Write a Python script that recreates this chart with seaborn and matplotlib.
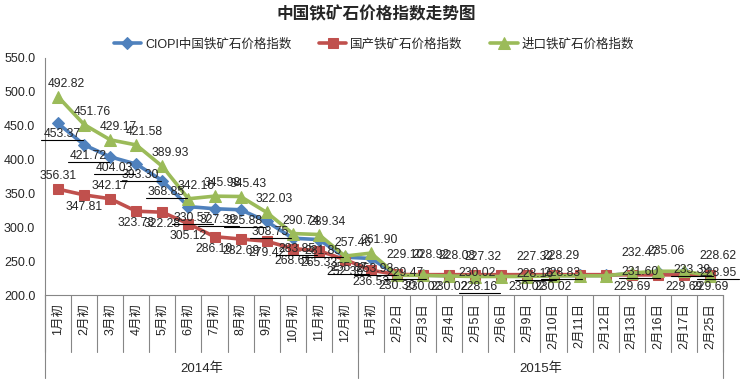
import numpy as np
import pandas as pd
import matplotlib
matplotlib.use('Agg')
import matplotlib.pyplot as plt
import seaborn as sns
from matplotlib.lines import Line2D
from matplotlib.transforms import IdentityTransform
from matplotlib.ticker import FormatStrFormatter

# categories (two-level axis: year -> period)
cats_2014 = ['1月初', '2月初', '3月初', '4月初', '5月初', '6月初',
             '7月初', '8月初', '9月初', '10月初', '11月初', '12月初']
cats_2015 = ['1月初', '2月2日', '2月3日', '2月4日', '2月5日', '2月6日', '2月9日',
             '2月10日', '2月11日', '2月12日', '2月13日', '2月16日', '2月17日', '2月25日']
years = ['2014年', '2015年']

ciopi = [453.37, 421.72, 404.03, 393.30, 368.85, 330.57, 327.39, 325.88, 308.75, 283.85, 281.85, 255.87,
         253.93, 229.47, 229.26, 228.65, 228.16, 228.16, 228.16, 228.83, 228.83, 228.83, 231.60, 233.39, 233.39, 228.95]
domestic = [356.31, 347.81, 342.17, 323.73, 322.28, 305.12, 286.10, 282.69, 279.42, 268.61, 265.33, 252.36,
            236.53, 230.30, 230.02, 230.02, 230.02, 230.02, 230.02, 230.02, 230.02, 230.02, 229.69, 229.69, 229.69, 229.69]
imported = [492.82, 451.76, 429.17, 421.58, 389.93, 342.10, 345.98, 345.43, 322.03, 290.74, 289.34, 257.46,
            261.90, 229.10, 228.92, 228.03, 227.32, 227.32, 227.32, 228.29, 228.29, 228.29, 232.47, 235.06, 235.06, 228.62]

series_names = ['CIOPI中国铁矿石价格指数', '国产铁矿石价格指数', '进口铁矿石价格指数']
title = '中国铁矿石价格指数走势图'

# labels hidden behind neighbours in the original (Feb 2015 crowd)
hide_ciopi = {14, 15, 17, 20, 21, 23}
hide_domestic = {17, 20, 21, 23}
hide_imported = {17, 20, 21, 24}

sns.set_style('white')
plt.rcParams['font.family'] = ['Liberation Sans', 'Noto Sans CJK SC']

categories = cats_2014 + cats_2015
n = len(categories)
df = pd.DataFrame({
    'idx': np.tile(np.arange(n), 3),
    'value': ciopi + domestic + imported,
    'series': np.repeat(series_names, n),
})

fig = plt.figure(figsize=(7.52, 3.80), dpi=100)
ax = fig.add_axes([45 / 752, 1 - 295 / 380, (723 - 45) / 752, (295 - 58) / 380])

styles = {
    series_names[0]: ('#4F81BD', 'D', 6.5),
    series_names[1]: ('#C0504D', 's', 7),
    series_names[2]: ('#9BBB59', '^', 8.5),
}
for name in series_names:
    c, m, ms = styles[name]
    sns.lineplot(data=df[df.series == name], x='idx', y='value', color=c, marker=m,
                 markersize=ms, markeredgecolor=c, linewidth=2.6, label=name, ax=ax)

# data labels (pixel offsets: 2014 part / Feb 2015 part)
feb_start = len(cats_2014) + 1
lab_fs = 8.7
blue_texts = []
for i in range(n):
    if i not in hide_imported:
        g_off = (8, 13) if i < feb_start else (8, 20)
        ax.annotate(f'{imported[i]:.2f}', (i, imported[i]), xytext=g_off, textcoords='offset pixels',
                    ha='center', va='center', fontsize=lab_fs)
    if i not in hide_domestic:
        if i in (0, 2):
            r_off = (0, 13)
        elif i == 16:
            r_off = (2, 2)
        else:
            r_off = (0, -12)
        ax.annotate(f'{domestic[i]:.2f}', (i, domestic[i]), xytext=r_off, textcoords='offset pixels',
                    ha='center', va='center', fontsize=lab_fs)
    if i not in hide_ciopi:
        if i < feb_start or i == 16:
            b_off = (4, -11)
        else:
            b_off = (8, 2)
        t = ax.annotate(f'{ciopi[i]:.2f}', (i, ciopi[i]), xytext=b_off, textcoords='offset pixels',
                        ha='center', va='center', fontsize=lab_fs)
        blue_texts.append(t)

ax.set_xlim(-0.5, n - 0.5)
ax.set_ylim(200, 550)
ax.set_yticks(np.arange(200, 551, 50))
ax.yaxis.set_major_formatter(FormatStrFormatter('%.1f'))
ax.set_xticks(range(n))
ax.set_xticklabels(categories, rotation=90, va='top', ha='center', fontsize=9)
ax.tick_params(axis='x', length=0, pad=6)
ax.tick_params(axis='y', length=4, color='#868686', labelsize=9, direction='out', pad=3)
ax.set_xlabel('')
ax.set_ylabel('')
ax.grid(False)
for s in ['top', 'right']:
    ax.spines[s].set_visible(False)
for s in ['left', 'bottom']:
    ax.spines[s].set_color('#868686')
    ax.spines[s].set_linewidth(0.8)
ax.get_legend().remove()

# category separators and year groups
trans = ax.get_xaxis_transform()
for b in np.arange(-0.5, n, 1):
    ax.plot([b, b], [0, -0.24], transform=trans, clip_on=False, color='#868686', lw=0.8)
year_edges = [-0.5, len(cats_2014) - 0.5, n - 0.5]
for b in year_edges:
    ax.plot([b, b], [0, -0.35], transform=trans, clip_on=False, color='#868686', lw=0.8)
for k, yr in enumerate(years):
    ax.text((year_edges[k] + year_edges[k + 1]) / 2, -0.31, yr, transform=trans,
            ha='center', va='center', fontsize=9.5)

fig.text(0.5, 0.962, title, ha='center', va='center', fontsize=12, fontweight='bold')
handles, labels = ax.get_legend_handles_labels()
fig.legend(handles, labels, loc='center', bbox_to_anchor=(0.497, 0.884), ncol=3, frameon=False,
           fontsize=9, handlelength=2.2, columnspacing=2.2, handletextpad=0.3)

# underline the CIOPI labels like the original
fig.canvas.draw()
rend = fig.canvas.get_renderer()
for t in blue_texts:
    bb = t.get_window_extent(rend)
    fig.add_artist(Line2D([bb.x0 - 2, bb.x1 + 2], [bb.y0, bb.y0], transform=IdentityTransform(),
                          color='black', lw=0.8))

fig.savefig('out.png', dpi=100)
